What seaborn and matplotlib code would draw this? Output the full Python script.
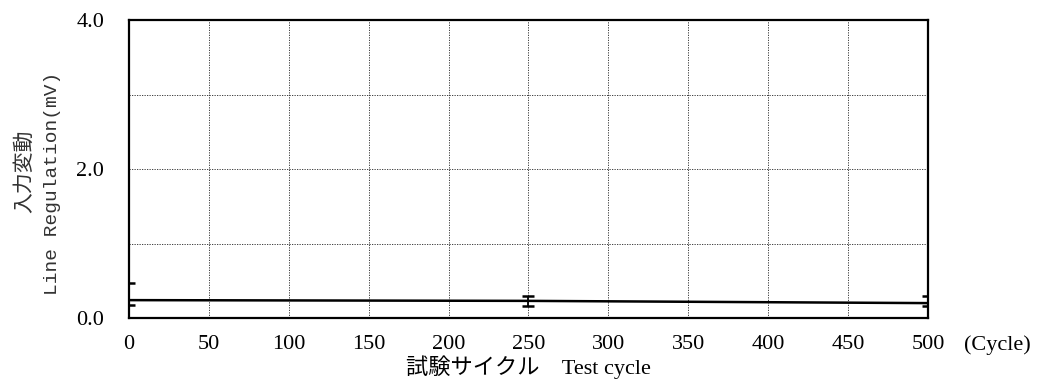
import matplotlib
matplotlib.use("Agg")
import matplotlib.pyplot as plt
import seaborn as sns
import pandas as pd
import numpy as np

cycles = [0, 250, 500]
mean_mv = [0.24, 0.23, 0.20]
upper_mv = [0.47, 0.30, 0.30]
lower_mv = [0.18, 0.165, 0.165]
x_ticks = [0, 50, 100, 150, 200, 250, 300, 350, 400, 450, 500]
y_ticks = [0.0, 2.0, 4.0]

sns.set_theme(style="white")
plt.rcParams['font.family'] = ['Liberation Serif', 'Noto Sans CJK JP']

df = pd.DataFrame({"cycle": cycles, "mv": mean_mv})

fig = plt.figure(figsize=(10.38, 3.9), dpi=100)
ax = fig.add_axes([0.1243, 0.1846, 0.7697, 0.764])

sns.lineplot(data=df, x="cycle", y="mv", ax=ax, color="black", linewidth=1.8)
yerr = [np.array(mean_mv) - np.array(lower_mv), np.array(upper_mv) - np.array(mean_mv)]
ax.errorbar(cycles, mean_mv, yerr=yerr, fmt="none", ecolor="black",
            elinewidth=1.3, capsize=4.3, capthick=1.8, zorder=3)

ax.set_xlim(0, 500)
ax.set_ylim(0, 4.0)
ax.set_xticks(x_ticks)
ax.set_xticklabels([str(v) for v in x_ticks])
ax.set_yticks(y_ticks)
ax.set_yticklabels([f"{v:.1f}" for v in y_ticks])
ax.set_yticks([1.0, 3.0], minor=True)

ax.grid(True, which="major", axis="x", color="#222222", linestyle=(0, (1.5, 1.5)), linewidth=0.6)
ax.grid(True, which="both", axis="y", color="#222222", linestyle=(0, (1.5, 1.5)), linewidth=0.6)
ax.set_axisbelow(True)

for s in ax.spines.values():
    s.set_color("black")
    s.set_linewidth(1.6)

ax.tick_params(axis="both", which="both", length=0, labelsize=16, colors="black")
ax.tick_params(axis="x", pad=12)
ax.tick_params(axis="y", pad=18)

ax.set_xlabel("試験サイクル　Test cycle", fontsize=16, color="black", labelpad=1)
ax.set_ylabel("")
fig.text(0.023, 0.562, "入力変動", rotation=90, ha="center", va="center",
         fontsize=15, color="#333333", family=['Noto Sans CJK JP'])
fig.text(0.051, 0.531, "Line Regulation(mV)", rotation=90, ha="center", va="center",
         fontsize=14, color="#333333", family=['Liberation Mono', 'Noto Sans CJK JP'])
fig.text(0.961, 0.115, "(Cycle)", ha="center", va="center", fontsize=16, color="black")

fig.savefig("out.png", dpi=100)
